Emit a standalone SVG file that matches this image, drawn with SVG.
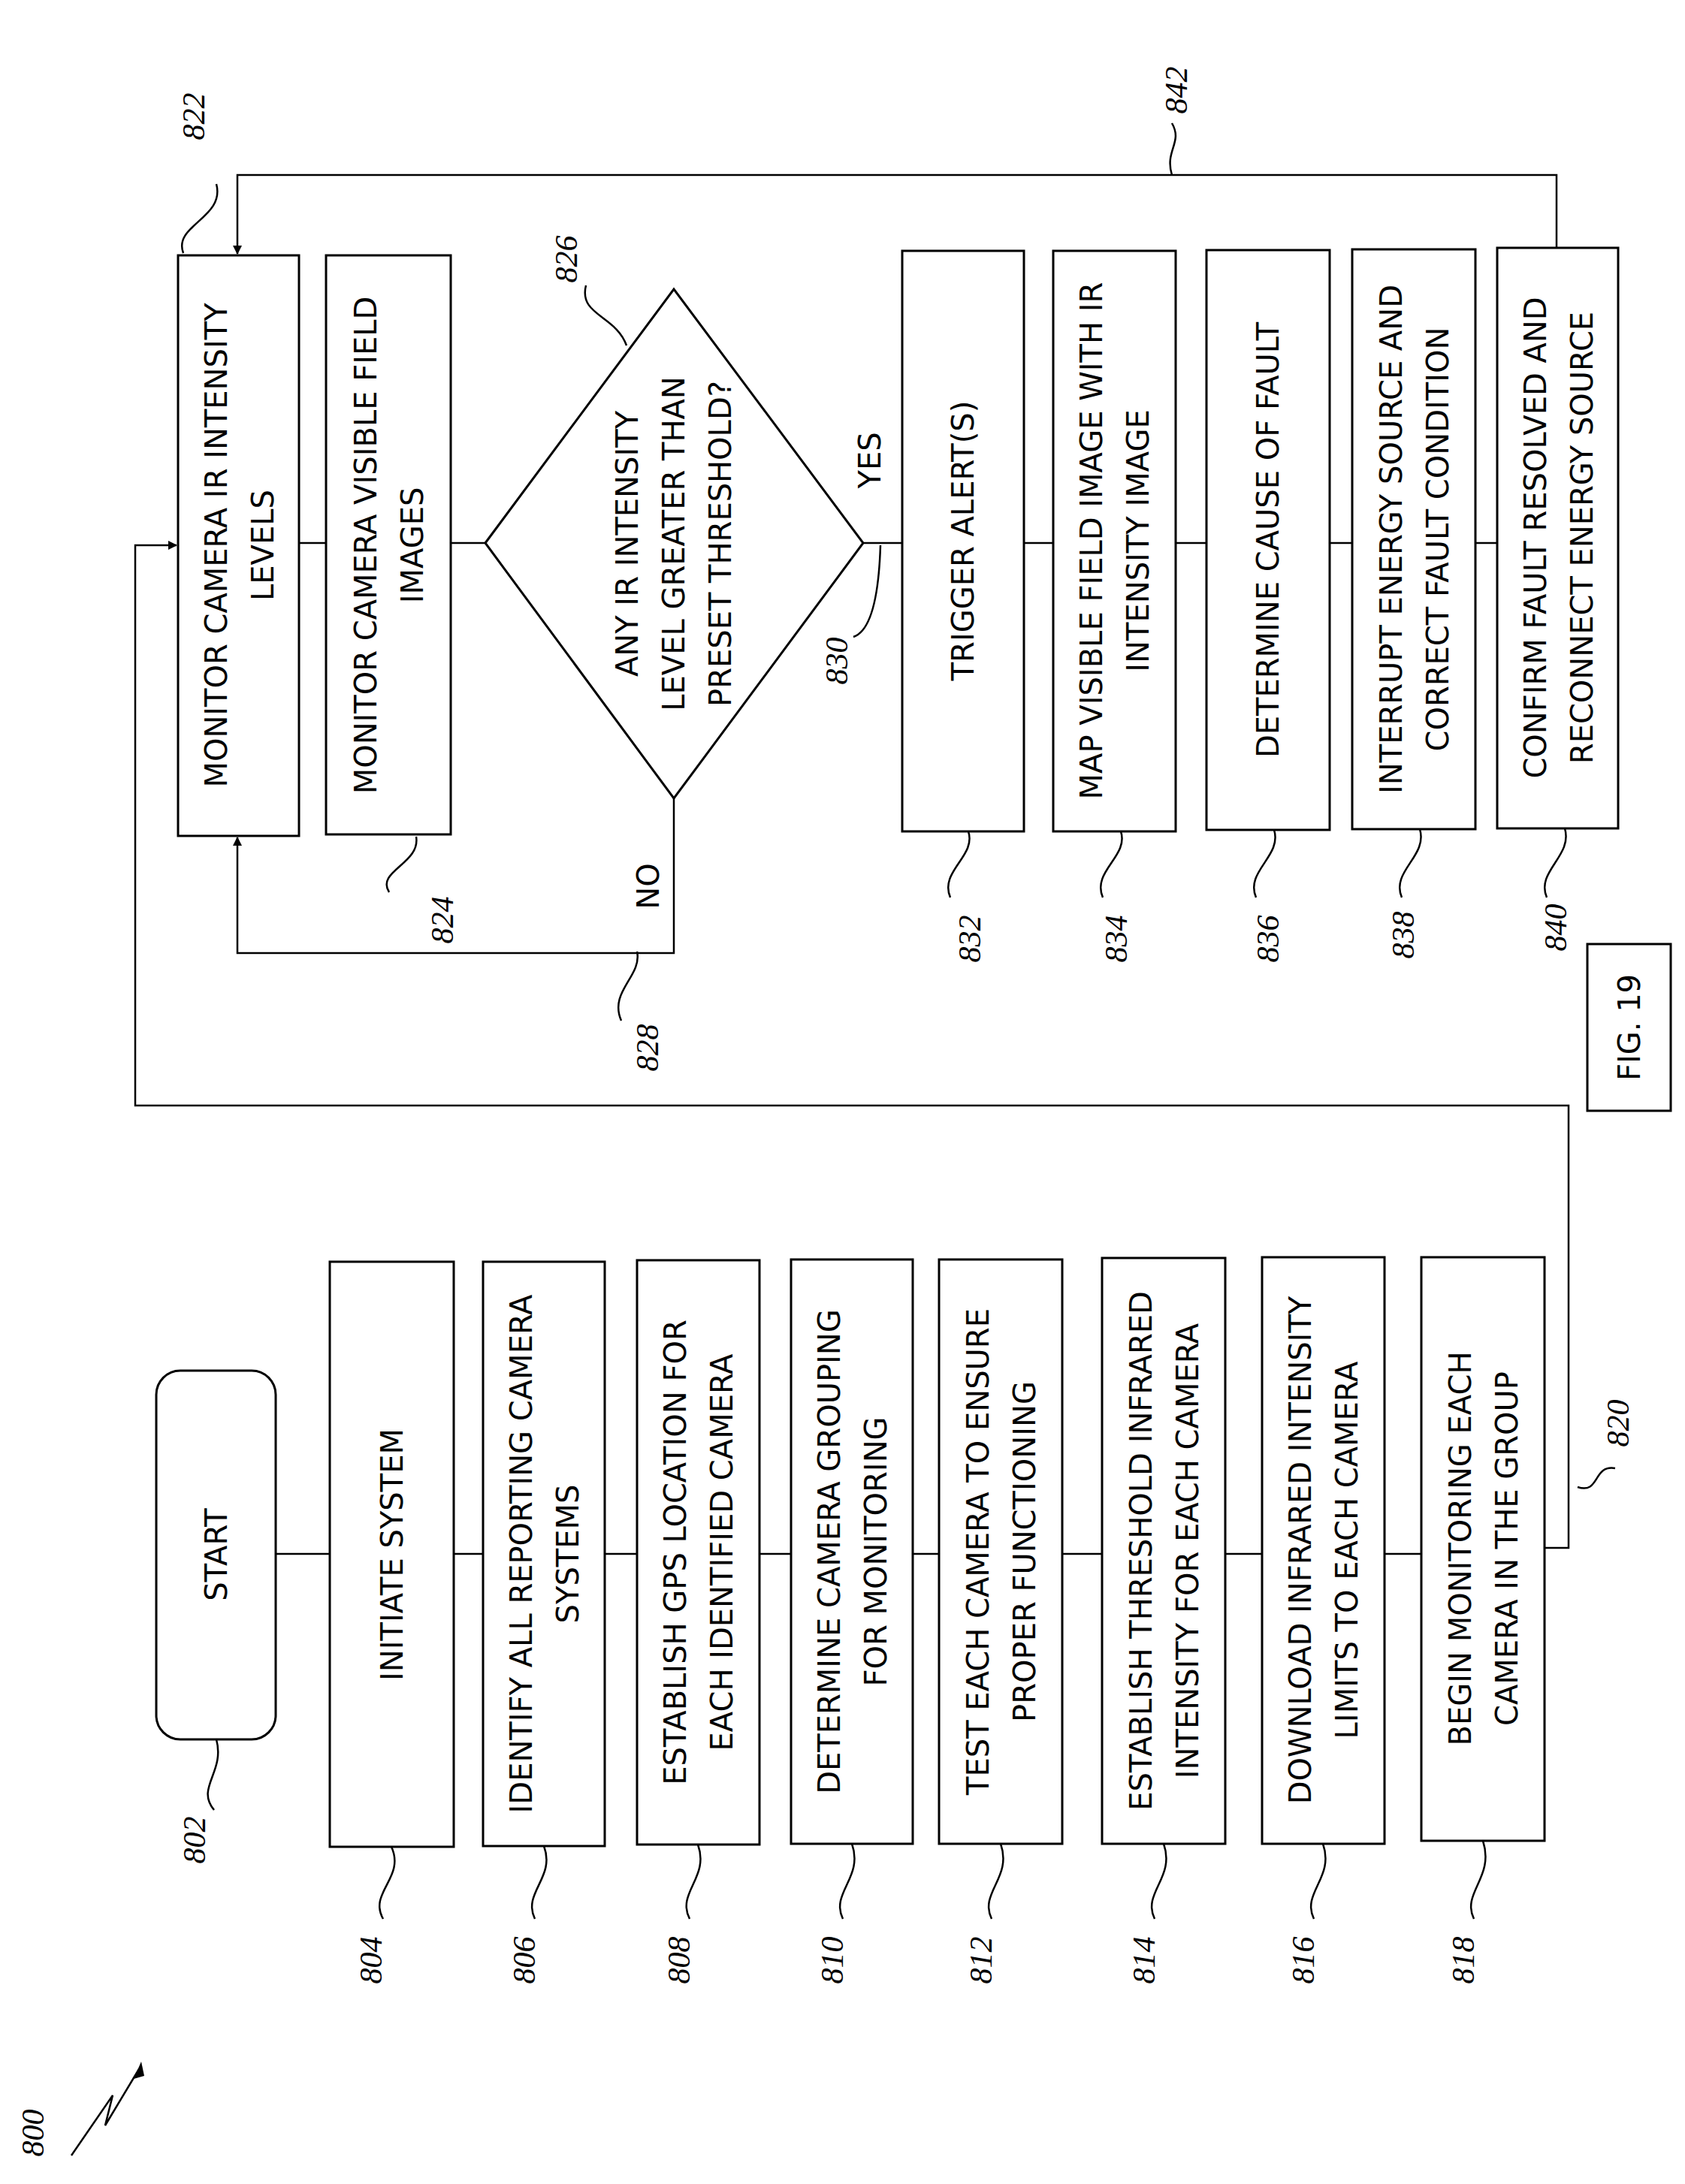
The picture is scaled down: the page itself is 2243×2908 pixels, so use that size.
<svg xmlns="http://www.w3.org/2000/svg" width="2243" height="2908" viewBox="0 0 2243 2908">
<style>
.b{fill:#fff;stroke:#000;stroke-width:3}
.l{fill:none;stroke:#000;stroke-width:2.5}
.t{font-family:"DejaVu Sans",sans-serif;font-size:40px;text-anchor:middle;fill:#000}
.r{font-family:"Liberation Serif",serif;font-style:italic;font-size:42px;text-anchor:middle;fill:#000}
</style>
<defs><marker id="a" markerWidth="12" markerHeight="12" refX="11" refY="6" orient="auto" markerUnits="userSpaceOnUse"><path d="M0,0 L12,6 L0,12 z" fill="#000"/></marker></defs>
<rect width="2243" height="2908" fill="#fff"/>
<g id="connectors">
<path class="l" d="M367,2069 H439 M604,2069 H643 M805,2069 H848 M1011,2069 H1053 M1215,2069 H1250 M1414,2069 H1467 M1631,2069 H1680 M1843,2069 H1892"/>
<path class="l" d="M2056,2061 H2088 V1472 H180 V726 H235" marker-end="url(#a)"/>
<path class="l" d="M398,723 H434 M600,723 H646 M1149,723 H1201 M1363,723 H1402 M1565,723 H1606 M1770,723 H1800 M1964,723 H1993"/>
<path class="l" d="M897,1063 V1269 H316 V1115" marker-end="url(#a)"/>
<path class="l" d="M2072,330 V233 H316 V338" marker-end="url(#a)"/>
</g>
<g id="start"><rect class="b" x="208" y="1825" width="159" height="491" rx="32"/><text class="t" transform="translate(302,2070) rotate(-90)">START</text></g>
<g id="n804"><rect class="b" x="439" y="1680" width="165" height="779"/><text class="t" transform="translate(536,2070) rotate(-90)">INITIATE SYSTEM</text></g>
<g id="n806"><rect class="b" x="643" y="1680" width="162" height="778"/><text class="t" transform="translate(724,2069) rotate(-90)"><tspan x="0" y="-16">IDENTIFY ALL REPORTING CAMERA</tspan><tspan x="0" y="46">SYSTEMS</tspan></text></g>
<g id="n808"><rect class="b" x="848" y="1678" width="163" height="778"/><text class="t" transform="translate(929,2067) rotate(-90)"><tspan x="0" y="-16">ESTABLISH GPS LOCATION FOR</tspan><tspan x="0" y="46">EACH IDENTIFIED CAMERA</tspan></text></g>
<g id="n810"><rect class="b" x="1053" y="1677" width="162" height="778"/><text class="t" transform="translate(1134,2066) rotate(-90)"><tspan x="0" y="-16">DETERMINE CAMERA GROUPING</tspan><tspan x="0" y="46">FOR MONITORING</tspan></text></g>
<g id="n812"><rect class="b" x="1250" y="1677" width="164" height="778"/><text class="t" transform="translate(1332,2066) rotate(-90)"><tspan x="0" y="-16">TEST EACH CAMERA TO ENSURE</tspan><tspan x="0" y="46">PROPER FUNCTIONING</tspan></text></g>
<g id="n814"><rect class="b" x="1467" y="1675" width="164" height="780"/><text class="t" transform="translate(1549,2065) rotate(-90)"><tspan x="0" y="-16">ESTABLISH THRESHOLD INFRARED</tspan><tspan x="0" y="46">INTENSITY FOR EACH CAMERA</tspan></text></g>
<g id="n816"><rect class="b" x="1680" y="1674" width="163" height="781"/><text class="t" transform="translate(1761,2064) rotate(-90)"><tspan x="0" y="-16">DOWNLOAD INFRARED INTENSITY</tspan><tspan x="0" y="46">LIMITS TO EACH CAMERA</tspan></text></g>
<g id="n818"><rect class="b" x="1892" y="1674" width="164" height="777"/><text class="t" transform="translate(1974,2062) rotate(-90)"><tspan x="0" y="-16">BEGIN MONITORING EACH</tspan><tspan x="0" y="46">CAMERA IN THE GROUP</tspan></text></g>
<g id="n822"><rect class="b" x="237" y="340" width="161" height="773"/><text class="t" transform="translate(318,726) rotate(-90)"><tspan x="0" y="-16">MONITOR CAMERA IR INTENSITY</tspan><tspan x="0" y="46">LEVELS</tspan></text></g>
<g id="n824"><rect class="b" x="434" y="340" width="166" height="771"/><text class="t" transform="translate(517,726) rotate(-90)"><tspan x="0" y="-16">MONITOR CAMERA VISIBLE FIELD</tspan><tspan x="0" y="46">IMAGES</tspan></text></g>
<g id="n826"><polygon class="b" points="646,723 897,385 1149,723 897,1063"/><text class="t" transform="translate(897,724) rotate(-90)"><tspan x="0" y="-48">ANY IR INTENSITY</tspan><tspan x="0" y="14">LEVEL GREATER THAN</tspan><tspan x="0" y="76">PRESET THRESHOLD?</tspan></text></g>
<g id="n832"><rect class="b" x="1201" y="334" width="162" height="773"/><text class="t" transform="translate(1282,720) rotate(-90)"><tspan x="0" y="14">TRIGGER ALERT(S)</tspan></text></g>
<g id="n834"><rect class="b" x="1402" y="334" width="163" height="773"/><text class="t" transform="translate(1483,720) rotate(-90)"><tspan x="0" y="-16">MAP VISIBLE FIELD IMAGE WITH IR</tspan><tspan x="0" y="46">INTENSITY IMAGE</tspan></text></g>
<g id="n836"><rect class="b" x="1606" y="333" width="164" height="772"/><text class="t" transform="translate(1688,719) rotate(-90)"><tspan x="0" y="14">DETERMINE CAUSE OF FAULT</tspan></text></g>
<g id="n838"><rect class="b" x="1800" y="332" width="164" height="772"/><text class="t" transform="translate(1882,718) rotate(-90)"><tspan x="0" y="-16">INTERRUPT ENERGY SOURCE AND</tspan><tspan x="0" y="46">CORRECT FAULT CONDITION</tspan></text></g>
<g id="n840"><rect class="b" x="1993" y="330" width="161" height="773"/><text class="t" transform="translate(2074,716) rotate(-90)"><tspan x="0" y="-16">CONFIRM FAULT RESOLVED AND</tspan><tspan x="0" y="46">RECONNECT ENERGY SOURCE</tspan></text></g>
<g id="labels">
<text class="t" transform="translate(1172,613) rotate(-90)">YES</text>
<text class="t" transform="translate(877,1180) rotate(-90)">NO</text>
<rect class="b" x="2113" y="1257" width="111" height="222" stroke-width="2"/>
<text class="t" transform="translate(2183,1368) rotate(-90)">FIG. 19</text>
<path class="l" d="M244,337 C230,300 300,290 288,245 M554,1114 C560,1150 500,1160 518,1188 M834,460 C820,420 770,420 780,380 M848,1267 C855,1300 810,1320 827,1359 M1172,726 C1170,790 1160,840 1136,848 M1560,233 C1550,200 1575,190 1560,164"/>
<path class="l" d="M288,2316 C300,2360 260,2380 285,2410 M521,2459 C540,2500 490,2520 510,2555 M724,2458 C740,2500 695,2520 712,2555 M929,2456 C945,2500 900,2520 918,2555 M1134,2455 C1150,2500 1105,2520 1122,2555 M1332,2455 C1348,2500 1303,2520 1320,2555 M1549,2455 C1565,2500 1520,2520 1537,2555 M1761,2455 C1777,2500 1732,2520 1749,2555 M1974,2451 C1990,2500 1945,2520 1962,2555 M2100,1980 C2130,1990 2120,1950 2150,1955"/>
<path class="l" d="M1289,1107 C1300,1140 1250,1160 1265,1195 M1492,1107 C1503,1140 1453,1160 1468,1195 M1696,1105 C1707,1140 1657,1160 1672,1195 M1890,1104 C1901,1140 1851,1160 1866,1195 M2083,1103 C2094,1140 2044,1160 2059,1195"/>
<path class="l" d="M95,2870 L150,2790 L140,2830 L185,2755"/><path d="M188,2745 L178,2768 L192,2764 z" fill="#000"/>
<g class="r">
<text transform="translate(273,2450) rotate(-90)">802</text>
<text transform="translate(508,2610) rotate(-90)">804</text>
<text transform="translate(712,2610) rotate(-90)">806</text>
<text transform="translate(918,2610) rotate(-90)">808</text>
<text transform="translate(1122,2610) rotate(-90)">810</text>
<text transform="translate(1320,2610) rotate(-90)">812</text>
<text transform="translate(1537,2610) rotate(-90)">814</text>
<text transform="translate(1749,2610) rotate(-90)">816</text>
<text transform="translate(1962,2610) rotate(-90)">818</text>
<text transform="translate(2168,1895) rotate(-90)">820</text>
<text transform="translate(272,155) rotate(-90)">822</text>
<text transform="translate(603,1225) rotate(-90)">824</text>
<text transform="translate(768,345) rotate(-90)">826</text>
<text transform="translate(876,1395) rotate(-90)">828</text>
<text transform="translate(1128,880) rotate(-90)">830</text>
<text transform="translate(1305,1250) rotate(-90)">832</text>
<text transform="translate(1500,1250) rotate(-90)">834</text>
<text transform="translate(1702,1250) rotate(-90)">836</text>
<text transform="translate(1882,1245) rotate(-90)">838</text>
<text transform="translate(2085,1235) rotate(-90)">840</text>
<text transform="translate(1580,120) rotate(-90)">842</text>
<text transform="translate(58,2840) rotate(-90)">800</text>
</g>
</g>
</svg>
